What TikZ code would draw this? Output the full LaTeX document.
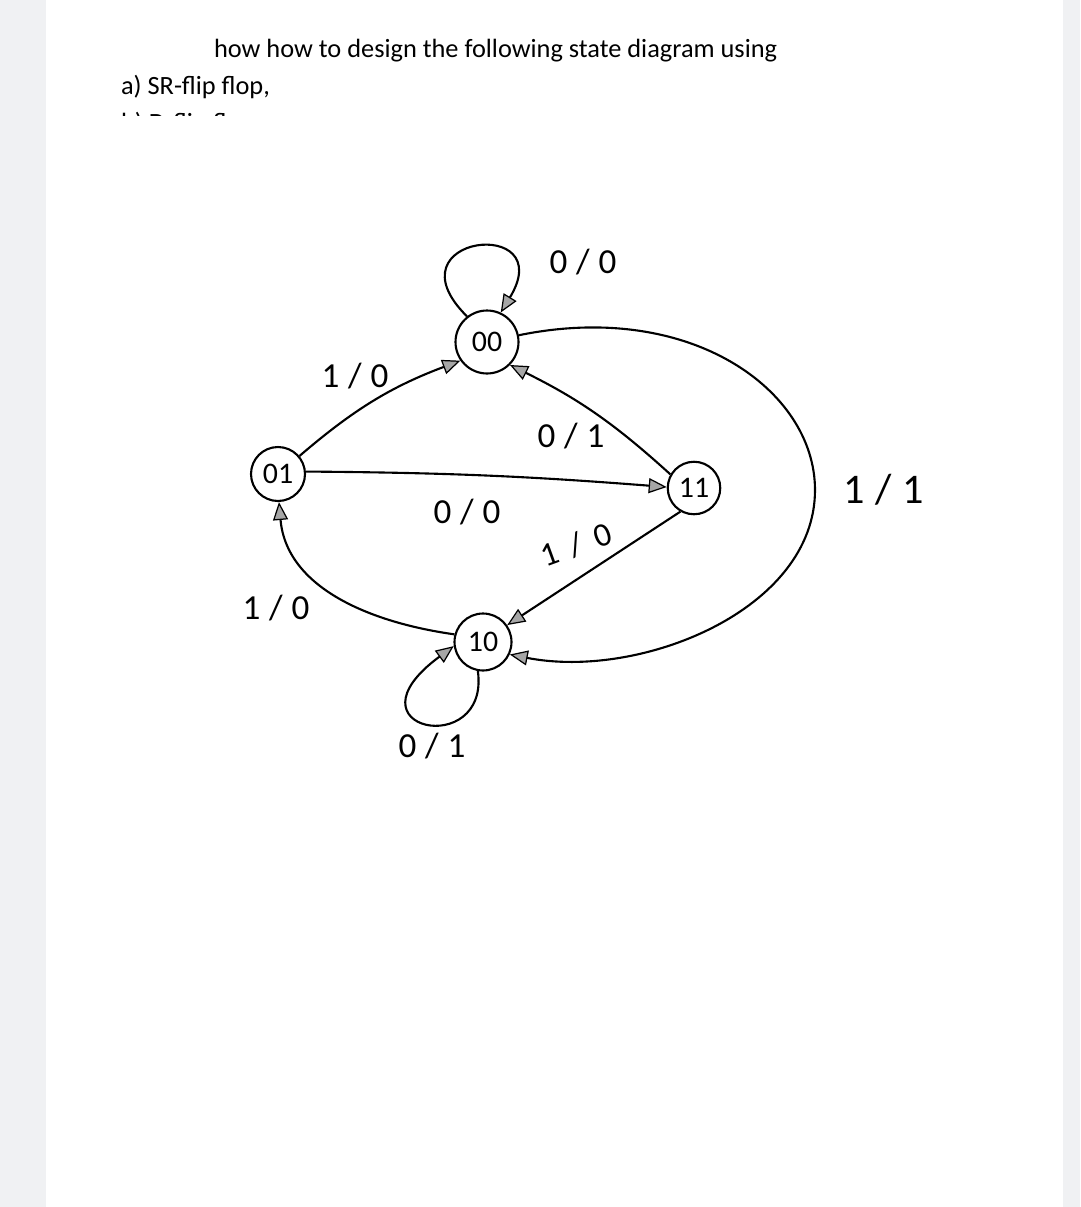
\documentclass[tikz,border=0pt]{standalone}
\usepackage{fontspec}
\setmainfont{Carlito}
\newfontfamily\handfont[LetterSpace=25]{Carlito}
\newfontfamily\widehandfont[LetterSpace=40]{Carlito}
\usetikzlibrary{automata,arrows.meta}
\definecolor{pagegray}{RGB}{240,241,243}

\begin{document}
\begin{tikzpicture}[x=0.02cm,y=0.02cm,line width=1.2pt,
	>={Triangle[length=3.6mm,width=3mm,fill=black!35,line width=0.7pt]},
	every state/.style={draw,circle,line width=1.2pt,inner sep=0pt,font=\fontsize{17}{17}\selectfont},
	lbl/.style={font=\handfont\fontsize{20}{20}\selectfont},
	doc/.style={anchor=base west,inner sep=0pt,font=\fontsize{15}{15}\selectfont}]
	% page
	\useasboundingbox (0,0) rectangle (1080,-1207);
	\fill[pagegray] (0,0) rectangle (1080,-1207);
	\fill[white] (46,0) rectangle (1063,-1207);
	\node[doc] (title) at (213,-57) {how how to design the following state diagram using};
	\node[doc] (parta) at (120,-94) {a) SR-flip flop,};
	\begin{scope}
		\clip (100,-100) rectangle (400,-115);
		\node[doc] (partb) at (120,-131) {b) D-flip flop,};
	\end{scope}
	% states
	\node[state,minimum size=1.26cm]	(s00)	at (487,-342)	{00};
	\node[state,minimum size=1.08cm]	(s01)	at (278,-474)	{01};
	\node[state,minimum size=1.05cm]	(s11)	at (694,-488)	{11};
	\node[state,minimum size=1.14cm]	(s10)	at (483,-642)	{10};
	% transitions
	\path[->]
		(s01.40)	edge [bend left=10]	(s00.215)
		(s01.5)		edge [bend left=2]	(s11.178)
		(s11.150)	edge [bend right=8]	(s00.-45)
		(s11.-120)	edge			(s10.35)
		(s10.165)	edge [out=172,in=-85]	(s01.-88)
		;
	\draw[->] (s00.128) .. controls (385,-235) and (560,-215) .. (s00.65);
	\draw[->] (s10.-100) .. controls (490,-760) and (340,-730) .. (s10.188);
	\draw[->] (s00.12) .. controls (690,-300) and (815,-390) .. (815,-490)
		.. controls (815,-610) and (640,-680) .. (s10.-25);
	% labels
	\node[lbl]		(l1)	at (355,-376)	{1/0};
	\node[lbl]		(l2)	at (583,-262)	{0/0};
	\node[lbl]		(l3)	at (571,-436)	{0/1};
	\node[lbl]		(l4)	at (467,-512)	{0/0};
	\node[lbl,font=\widehandfont\fontsize{19}{19}\selectfont,rotate=20,inner sep=0pt]	(l5)	at (576,-545)	{1/0};
	\node[lbl]		(l6)	at (276,-608)	{1/0};
	\node[lbl]		(l7)	at (432,-746)	{0/1};
	\node[lbl,font=\handfont\fontsize{24}{24}\selectfont]	(l8)	at (884,-490)	{1/1};
\end{tikzpicture}
\end{document}
